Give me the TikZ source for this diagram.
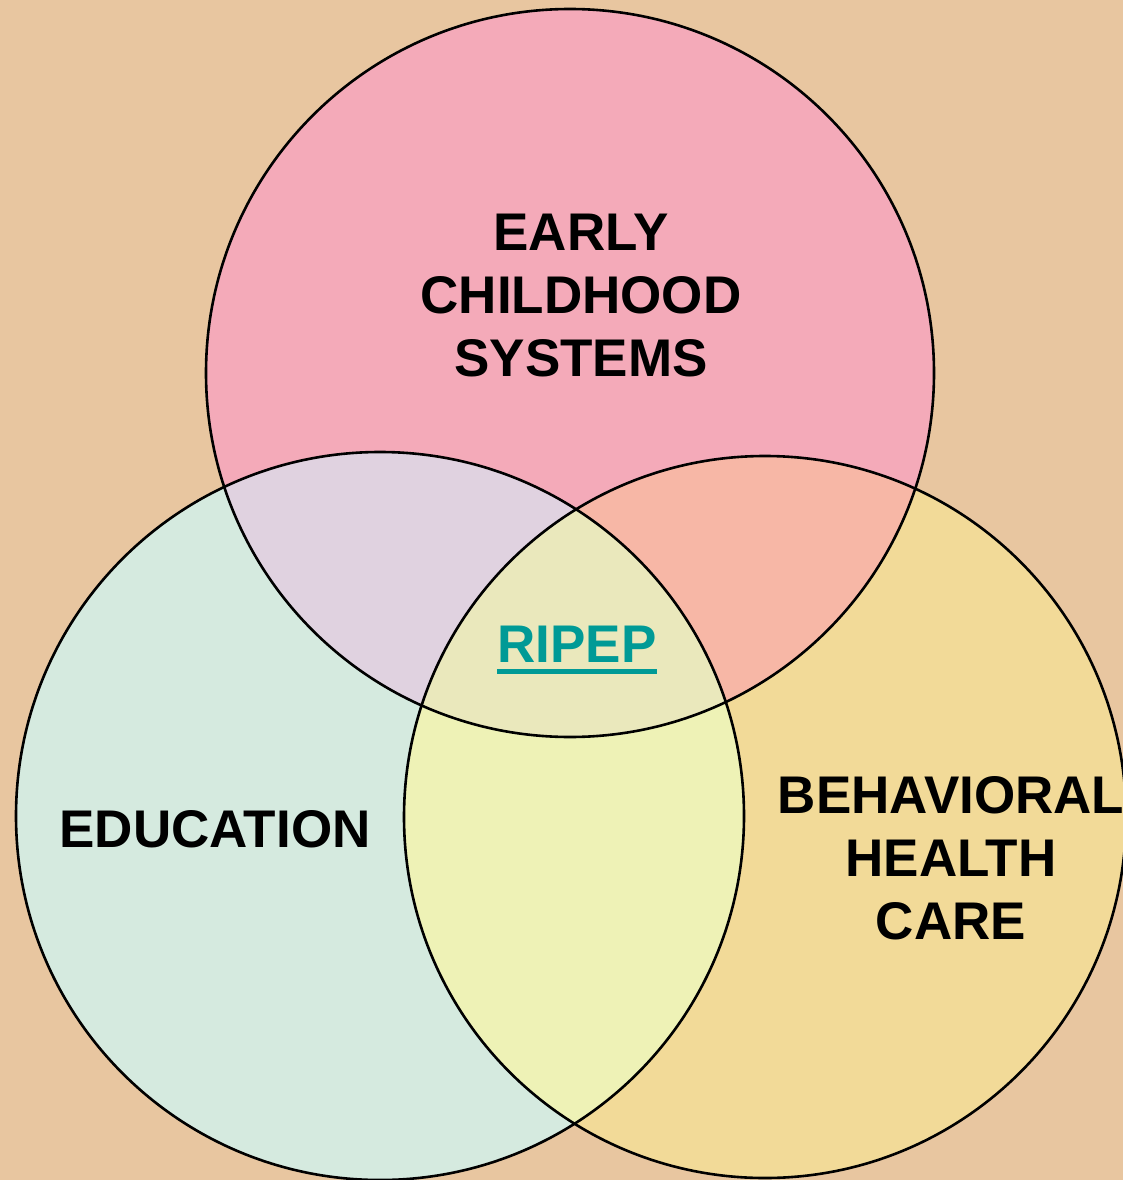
\documentclass[tikz,border=0pt]{standalone}
\usepackage{fontspec}
\setmainfont{Liberation Sans}
\definecolor{bg}{HTML}{E8C6A0}
\definecolor{topc}{HTML}{F4AAB9}
\definecolor{leftc}{HTML}{D5EADF}
\definecolor{rightc}{HTML}{F2DA98}
\definecolor{tl}{HTML}{E0D2E0}
\definecolor{tr}{HTML}{F7B7A6}
\definecolor{lr}{HTML}{EEF2B6}
\definecolor{ctr}{HTML}{EAE8BC}
\definecolor{teal}{HTML}{009A96}
\tikzset{
  lbl/.style={font=\fontsize{53}{63}\selectfont\bfseries, align=center, text=black, inner sep=0pt},
  ring/.style={draw=black, line width=2.6pt}
}
\begin{document}
\begin{tikzpicture}[x=1pt,y=-1pt]
\fill[bg] (0,0) rectangle (1123,1180);
\useasboundingbox (0,0) rectangle (1123,1180);
\def\topcirc{(570,373) circle[radius=364]}
\def\leftcirc{(380,816) circle[radius=364]}
\def\rightcirc{(765,817) circle[radius=361]}
\fill[topc] \topcirc;
\fill[leftc] \leftcirc;
\fill[rightc] \rightcirc;
\begin{scope}
  \clip \topcirc;
  \fill[tl] \leftcirc;
  \fill[tr] \rightcirc;
\end{scope}
\begin{scope}
  \clip \leftcirc;
  \fill[lr] \rightcirc;
  \clip \rightcirc;
  \fill[ctr] \topcirc;
\end{scope}
\draw[ring] \topcirc;
\draw[ring] \leftcirc;
\draw[ring] \rightcirc;
\node[lbl] (ecs) at (581,296) {EARLY\\CHILDHOOD\\SYSTEMS};
\node[lbl, anchor=base] (edu) at (215,847) {EDUCATION};
\node[lbl] (bhc) at (951,858) {BEHAVIORAL\\HEALTH\\CARE};
\node[lbl, text=teal, anchor=base] (ripep) at (577,662) {RIPEP};
\draw[teal, line width=5pt] (ripep.base west) ++(0,9) coordinate (ul1) -- (ripep.base east |- ul1);
\end{tikzpicture}
\end{document}
